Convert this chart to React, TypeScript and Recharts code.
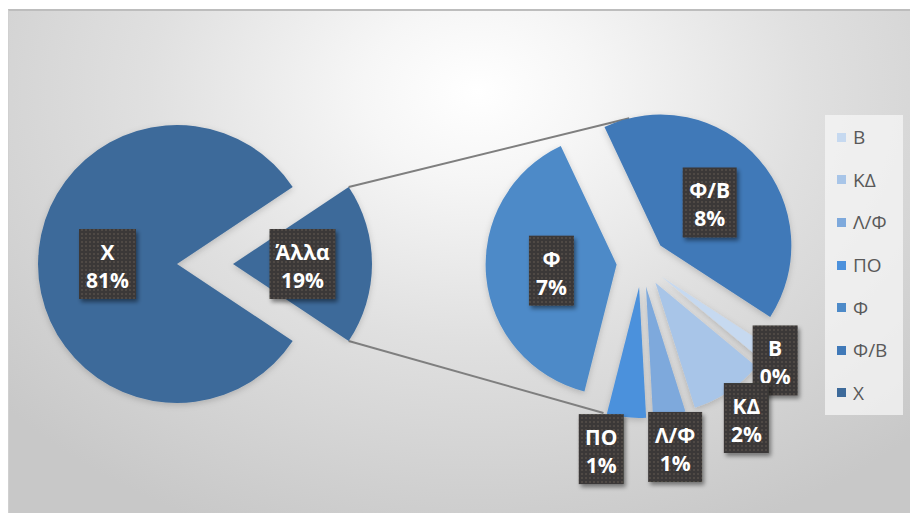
import { Cell, Legend, Pie, PieChart, Sector } from 'recharts'

// main pie: "Άλλα" is split out into the second pie
const mainNames = ['Άλλα', 'Χ']
const mainValues = [18.7, 81.3]
const mainColors = ['#3d6a9a', '#3d6a9a']

// second pie, clockwise from the lower right
const detailNames = ['Β', 'ΚΔ', 'Λ/Φ', 'ΠΟ', 'Φ', 'Φ/Β']
const detailValues = [0.35, 1.7, 0.75, 0.9, 7.3, 7.7]
const detailColors = ['#c6d9f0', '#a8c5e8', '#7ea9dc', '#4c91dc', '#4d8ac8', '#4079b8']

const legendNames = ['Β', 'ΚΔ', 'Λ/Φ', 'ΠΟ', 'Φ', 'Φ/Β', 'Χ']
const legendColors = [...detailColors, '#3d6a9a']

const WIDTH = 910
const HEIGHT = 513
const MAIN = { cx: 177, cy: 264, r: 139, explode: 56 }
const DETAIL = { cx: 641.5, cy: 262, r: 131, explode: 25, start: -33 }
const FONT = '"Open Sans", "Noto Sans", sans-serif'

const sum = (xs: number[]) => xs.reduce((a, b) => a + b, 0)
const total = sum(mainValues)
const detailTotal = sum(detailValues)
const mainStart = -((mainValues[0] / total) * 360) / 2

const rad = (a: number) => (a * Math.PI) / 180
const polar = (cx: number, cy: number, r: number, a: number) => ({
  x: cx + r * Math.cos(rad(a)),
  y: cy - r * Math.sin(rad(a)),
})

const mainData = mainNames.map((name, i) => ({ name, value: mainValues[i] }))
const detailData = detailNames.map((name, i) => ({ name, value: detailValues[i] }))

// same sweep as recharts uses (clockwise from DETAIL.start)
const detailAngles = (() => {
  let a = DETAIL.start
  return detailValues.map((v) => {
    const start = a
    a -= (v / detailTotal) * 360
    return { start, end: a, mid: (start + a) / 2 }
  })
})()

const mainExplode = (name: string) => (name === mainNames[0] ? MAIN.explode : 0)
const detailExplode = () => DETAIL.explode

function tangentPoint(px: number, py: number, ox: number, oy: number, r: number, side: number) {
  const dx = px - ox
  const dy = oy - py
  const base = (Math.atan2(dy, dx) * 180) / Math.PI
  const d = Math.sqrt(dx * dx + dy * dy)
  const off = (Math.acos(r / d) * 180) / Math.PI
  return polar(ox, oy, r, base + side * off)
}

function connectors() {
  const half = -mainStart
  const v = polar(MAIN.cx, MAIN.cy, MAIN.explode, 0)
  const top = polar(v.x, v.y, MAIN.r, half)
  const bottom = polar(v.x, v.y, MAIN.r, -half)
  const norm = (a: number) => ((a % 360) + 360) % 360
  const covers = (i: number, a: number) => {
    const { start, end } = detailAngles[i]
    return norm(a - norm(end)) <= start - end
  }
  const topIdx = detailAngles.findIndex((_, i) => covers(i, 90))
  const botIdx = detailAngles.findIndex((_, i) => covers(i, 270))
  const tc = polar(DETAIL.cx, DETAIL.cy, DETAIL.explode, detailAngles[topIdx].mid)
  const bc = polar(DETAIL.cx, DETAIL.cy, DETAIL.explode, detailAngles[botIdx].mid)
  const t1 = tangentPoint(top.x, top.y, tc.x, tc.y, DETAIL.r, -1)
  const t2 = tangentPoint(bottom.x, bottom.y, bc.x, bc.y, DETAIL.r, 1)
  return (
    <g stroke="#7f7f7f" strokeWidth={2}>
      <line x1={top.x} y1={top.y} x2={t1.x} y2={t1.y} />
      <line x1={bottom.x} y1={bottom.y} x2={t2.x} y2={t2.y} />
    </g>
  )
}

const charW: Record<string, number> = { '%': 18, '/': 8, 'Φ': 17, 'Ο': 16, 'λ': 11.5 }
const textWidth = (s: string) =>
  s.split('').reduce((w, c) => w + (charW[c] ?? (c >= '0' && c <= '9' ? 12 : 14)), 0)

function DataLabel({ x, y, name, pct }: { x: number; y: number; name: string; pct: string }) {
  const w = Math.max(textWidth(name), textWidth(pct)) + 15
  return (
    <g>
      <rect x={x - w / 2} y={y - 35} width={w} height={70} fill="url(#labelDots)" filter="url(#labelShadow)" />
      <text x={x} y={y - 12} textAnchor="middle" dominantBaseline="central" fill="#ffffff" fontFamily={FONT} fontWeight={700} fontSize={21}>
        {name}
      </text>
      <text x={x} y={y + 16} textAnchor="middle" dominantBaseline="central" fill="#ffffff" fontFamily={FONT} fontWeight={700} fontSize={21}>
        {pct}
      </text>
    </g>
  )
}

const explodedShape = (explodeFor: (name: string) => number) => (p: any) => {
  const name = p.payload?.name ?? p.name
  const c = polar(p.cx, p.cy, explodeFor(name), p.midAngle)
  return <Sector {...p} cx={c.x} cy={c.y} stroke="none" filter="url(#sliceShadow)" />
}

const renderLabel = (explodeFor: (name: string) => number, isDetail: boolean) => (p: any) => {
  const name = p.payload?.name ?? p.name
  const value = p.payload?.value ?? p.value
  const mid = p.midAngle
  const v = polar(p.cx, p.cy, explodeFor(name), mid)
  let pos = polar(v.x, v.y, p.outerRadius / 2, mid)
  if (isDetail && value / detailTotal < 0.15) {
    pos = polar(p.cx, p.cy, p.outerRadius + (value < 0.5 ? 35 : 57), mid)
    if (Math.cos(rad(mid)) < 0) pos = { x: pos.x - 22, y: pos.y }
  }
  return <DataLabel key={name} x={pos.x} y={pos.y} name={name} pct={`${Math.round((value / total) * 100)}%`} />
}

function LegendBox() {
  return (
    <div style={{ background: 'rgba(245,245,245,0.75)', width: 78, padding: '1px 0', fontFamily: FONT }}>
      {legendNames.map((n, i) => (
        <div key={n} style={{ height: 42.6, display: 'flex', alignItems: 'center', paddingLeft: 12 }}>
          <span style={{ width: 9, height: 9, background: legendColors[i], display: 'inline-block', marginRight: 7 }} />
          <span style={{ color: '#595959', fontSize: 19 }}>{n}</span>
        </div>
      ))}
    </div>
  )
}

export default function App() {
  return (
    <div style={{ position: 'relative', width: WIDTH, height: HEIGHT, background: '#ffffff', overflow: 'hidden' }}>
      <style>{'body{margin:0;overflow:hidden}'}</style>
      <div
        style={{
          position: 'absolute',
          left: 8,
          top: 9,
          width: WIDTH - 8,
          height: HEIGHT - 9,
          boxSizing: 'border-box',
          borderTop: '2px solid #bdbdbd',
          borderLeft: '1px solid #d0d0d0',
          background:
            'radial-gradient(ellipse 70% 95% at 52% 16%, #ffffff 0%, #f6f6f6 18%, #e0e0e0 52%, #c8c8c8 100%)',
        }}
      />
      <svg width={0} height={0} style={{ position: 'absolute' }}>
        <defs>
          <pattern id="labelDots" width={4} height={4} patternUnits="userSpaceOnUse">
            <rect width={4} height={4} fill="#3a3837" />
            <circle cx={2} cy={2} r={0.7} fill="#75685a" />
          </pattern>
          <filter id="labelShadow" x="-20%" y="-20%" width="150%" height="150%">
            <feDropShadow dx={2} dy={3} stdDeviation={2} floodColor="#000" floodOpacity={0.45} />
          </filter>
          <filter id="sliceShadow" x="-20%" y="-20%" width="140%" height="140%">
            <feDropShadow dx={0} dy={2} stdDeviation={3} floodColor="#000" floodOpacity={0.18} />
          </filter>
        </defs>
      </svg>
      <div style={{ position: 'absolute', left: 0, top: 0 }}>
        <PieChart width={WIDTH} height={HEIGHT} margin={{ top: 0, right: 0, bottom: 0, left: 0 }}>
          {connectors()}
          <Pie
            data={mainData}
            dataKey="value"
            nameKey="name"
            cx={MAIN.cx}
            cy={MAIN.cy}
            outerRadius={MAIN.r}
            startAngle={mainStart}
            endAngle={mainStart + 360}
            stroke="none"
            shape={explodedShape(mainExplode)}
            label={renderLabel(mainExplode, false)}
            labelLine={false}
            isAnimationActive={false}
          >
            {mainData.map((d, i) => (
              <Cell key={d.name} fill={mainColors[i]} />
            ))}
          </Pie>
          <Pie
            data={detailData}
            dataKey="value"
            nameKey="name"
            cx={DETAIL.cx}
            cy={DETAIL.cy}
            outerRadius={DETAIL.r}
            startAngle={DETAIL.start}
            endAngle={DETAIL.start - 360}
            stroke="none"
            shape={explodedShape(detailExplode)}
            label={renderLabel(detailExplode, true)}
            labelLine={false}
            isAnimationActive={false}
          >
            {detailData.map((d, i) => (
              <Cell key={d.name} fill={detailColors[i]} />
            ))}
          </Pie>
          <Legend
            layout="vertical"
            align="right"
            verticalAlign="top"
            wrapperStyle={{ left: 825, top: 115, right: 'auto', width: 78 }}
            content={() => <LegendBox />}
          />
        </PieChart>
      </div>
    </div>
  )
}
